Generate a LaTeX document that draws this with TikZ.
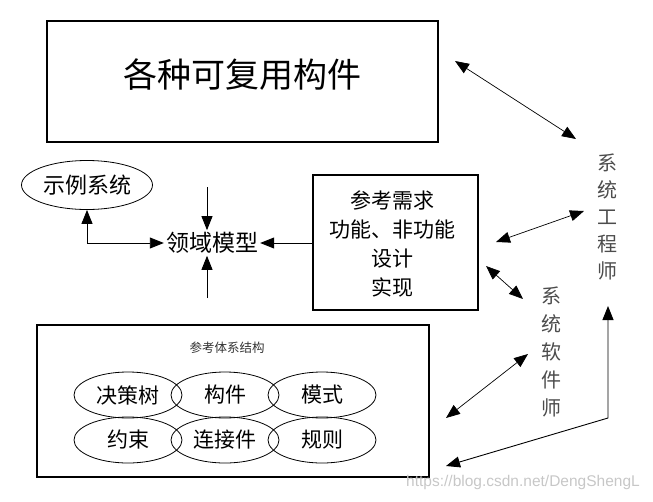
\documentclass[tikz,border=0pt]{standalone}
\usepackage{fontspec}
\setmainfont{Liberation Sans}
\newfontfamily\cjk{Noto Sans CJK SC}
\usetikzlibrary{arrows.meta,shapes.geometric}
\begin{document}
\begin{tikzpicture}[x=1pt,y=-1pt,
  dbl/.style={{Triangle[length=14pt,width=11pt]}-{Triangle[length=14pt,width=11pt]}, line width=0.7pt},
  dblp/.style={{Triangle[length=14pt,width=11pt]}-{Triangle[length=14pt,width=11pt]}, line width=0.9pt},
  sgl/.style={-{Triangle[length=14pt,width=11pt]}, line width=0.9pt},
  boxed/.style={draw, line width=1.1pt, inner sep=0pt},
  oval/.style={draw, ellipse, line width=0.8pt, minimum width=108pt, minimum height=46pt, inner sep=0pt, font=\cjk\fontsize{21}{21}\selectfont},
  vtext/.style={text=black!70, font=\cjk\fontsize{20}{20}\selectfont, align=center}
]
\useasboundingbox (0,0) rectangle (653,501);
% top box
\node[boxed, minimum width=391pt, minimum height=121pt] (top) at (242.5,81.5) {};
\node[font=\cjk\fontsize{34}{34}\selectfont] (toptext) at (242,75) {各种可复用构件};
% example system ellipse
\node[draw, ellipse, line width=0.8pt, minimum width=131pt, minimum height=49pt, inner sep=0pt, font=\cjk\fontsize{22}{22}\selectfont] (ex) at (87,185) {示例系统};
% domain model
\node[font=\cjk\fontsize{23}{23}\selectfont, inner sep=2pt] (dm) at (212,243) {领域模型};
\coordinate (dmtop) at (207,187);
\coordinate (dmbot) at (207,298);
\coordinate (corner) at (87,243);
% middle box
\node[boxed, minimum width=165pt, minimum height=135pt] (req) at (395.5,242.5) {};
\node[font=\cjk\fontsize{21}{29}\selectfont, align=center] (reqtext) at (392,244) {参考需求\\功能、非功能\\设计\\实现};
% vertical texts
\node[vtext] (eng) at (607,217) {系\\[7pt]统\\[7pt]工\\[7pt]程\\[7pt]师};
\node[vtext] (sw) at (551,352) {系\\[8pt]统\\[8pt]软\\[8pt]件\\[8pt]师};
% bottom box
\node[boxed, minimum width=392pt, minimum height=152pt] (arch) at (233,401) {};
\node[font=\cjk\fontsize{12.5}{12.5}\selectfont, text=black!80] (archtitle) at (227,348) {参考体系结构};
\node[oval] (o1) at (128,395) {决策树};
\node[oval] (o2) at (225,395) {构件};
\node[oval] (o3) at (322,395) {模式};
\node[oval] (o4) at (128,440) {约束};
\node[oval] (o5) at (225,440) {连接件};
\node[oval] (o6) at (322,440) {规则};
% arrow endpoints
\coordinate (a1s) at (455,61);
\coordinate (a1e) at (576,139);
\coordinate (a2s) at (496,242);
\coordinate (a2e) at (584,211);
\coordinate (a3s) at (486,266);
\coordinate (a3e) at (523,299);
\coordinate (a4s) at (446,418);
\coordinate (a4e) at (528,354);
\coordinate (a5s) at (446,466);
\coordinate (a5c) at (608,418);
\coordinate (a5e) at (608,306);
% connectors
\draw[sgl] (dmtop) -- (dm.north -| dmtop);
\draw[sgl] (dmbot) -- (dm.south -| dmbot);
\draw[sgl] (req.west |- dm.east) -- (dm.east);
\draw[dblp] (ex.south) -- (corner) -- (dm.west);
\draw[dbl] (a1s) -- (a1e);
\draw[dbl] (a2s) -- (a2e);
\draw[dbl] (a3s) -- (a3e);
\draw[dbl] (a4s) -- (a4e);
\draw[dblp] (a5s) -- (a5c) -- (a5e);
% watermark
\node[text=black!22, font=\fontsize{15.5}{15.5}\selectfont] (wm) at (523,482) {https://blog.csdn.net/DengShengL};
\end{tikzpicture}
\end{document}
